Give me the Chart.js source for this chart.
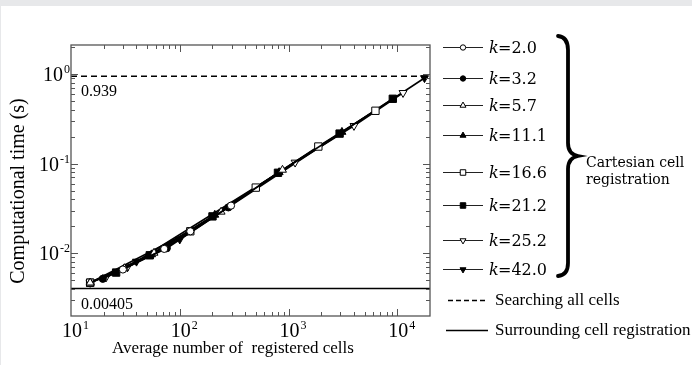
<!DOCTYPE html>
<html><head><meta charset="utf-8">
<script src="https://cdn.jsdelivr.net/npm/chart.js@4"></script>
<style>html,body{margin:0;padding:0;background:#fff;overflow:hidden}</style>
</head><body>
<canvas id="c" width="692" height="365" style="display:block;width:692px;height:365px"></canvas>
<script>
// ---- data ----
const seriesLabels = ['2.0', '3.2', '5.7', '11.1', '16.6', '21.2', '25.2', '42.0'];
const k20X  = [30, 72, 125, 296];
const k20Y  = [0.0066, 0.0112, 0.0176, 0.034];
const k32X  = [19.6, 76, 280];
const k32Y  = [0.0052, 0.0114, 0.0325];
const k57X  = [15, 31, 58, 240, 880];
const k57Y  = [0.0047, 0.0068, 0.0101, 0.029, 0.085];
const k111X = [15, 55, 210, 820, 3100];
const k111Y = [0.0047, 0.0097, 0.0268, 0.080, 0.225];
const k166X = [15, 125, 500, 1880, 6300];
const k166Y = [0.0047, 0.0176, 0.054, 0.155, 0.388];
const k212X = [15, 26, 53, 200, 800, 2950, 9100];
const k212Y = [0.0047, 0.0061, 0.0095, 0.0258, 0.079, 0.216, 0.528];
const k252X = [21, 33, 1150, 4000, 11300];
const k252Y = [0.0054, 0.0070, 0.103, 0.264, 0.615];
const k420X = [15, 40, 100, 17800];
const k420Y = [0.0047, 0.0081, 0.0143, 0.90];
const searchAllTime = 0.939;
const surroundingTime = 0.00405;
const xRange = [10, 20000];
const yRange = [0.002, 2.1];
const xMajorTicks = [10, 100, 1000, 10000];
const yMajorTicks = [0.01, 0.1, 1];
const refLabels = ['Searching all cells', 'Surrounding cell registration'];
const groupLabel = ['Cartesian cell', 'registration'];

const xs = [k20X, k32X, k57X, k111X, k166X, k212X, k252X, k420X];
const ys = [k20Y, k32Y, k57Y, k111Y, k166Y, k212Y, k252Y, k420Y];
const styles = [
  {ps:'circle', rot:0, fill:false, r:3.6},
  {ps:'circle', rot:0, fill:true, r:3.6},
  {ps:'triangle', rot:0, fill:false, r:4.6},
  {ps:'triangle', rot:0, fill:true, r:4.6},
  {ps:'rect', rot:0, fill:false, r:5.2},
  {ps:'rect', rot:0, fill:true, r:5.2},
  {ps:'triangle', rot:180, fill:false, r:4.6},
  {ps:'triangle', rot:180, fill:true, r:4.6}
];
const zip = (a, b) => a.map((v, i) => ({x: v, y: b[i]}));

const datasets = [];
datasets.push({label: refLabels[0], data: zip(xRange, [searchAllTime, searchAllTime]),
  borderColor:'#000', borderWidth:1.5, borderDash:[6,4], pointRadius:0, fill:false, order:10});
datasets.push({label: refLabels[1], data: zip(xRange, [surroundingTime, surroundingTime]),
  borderColor:'#000', borderWidth:1.6, pointRadius:0, fill:false, order:10});
seriesLabels.forEach((lab, i) => {
  const s = styles[i];
  datasets.push({
    label: 'k=' + lab, data: zip(xs[i], ys[i]),
    borderColor:'#000', borderWidth:1.6, fill:false, tension:0,
    pointStyle: s.ps, rotation: s.rot, pointRadius: s.r, pointHoverRadius: s.r,
    pointBackgroundColor: s.fill ? '#000' : '#fff', pointBorderColor:'#000', pointBorderWidth:1,
    order: i
  });
});

const SERIF = '"Liberation Serif", "Times New Roman", serif';
const MATH = '"DejaVu Serif", serif';
const legendRowsY = [47, 78, 105, 135, 172, 205, 240, 269];

function drawPow(ctx, base, exp, x, y, align, baseSize, supSize) {
  ctx.font = baseSize + 'px ' + SERIF;
  const wb = ctx.measureText(base).width;
  ctx.font = supSize + 'px ' + SERIF;
  const we = ctx.measureText(exp).width;
  let x0;
  if (align === 'right') x0 = x - wb - we - 1;
  else x0 = x - wb / 2; // base centred
  ctx.textAlign = 'left';
  ctx.textBaseline = 'alphabetic';
  ctx.font = baseSize + 'px ' + SERIF;
  ctx.fillText(base, x0, y);
  ctx.font = supSize + 'px ' + SERIF;
  ctx.fillText(exp, x0 + wb + 1, y - 8);
}

const deco = {
  id: 'deco',
  beforeDraw(chart) {
    const ctx = chart.ctx;
    ctx.save();
    ctx.fillStyle = '#e7e8ea';
    ctx.fillRect(0, 0, chart.width, chart.height);
    ctx.fillStyle = '#fff';
    ctx.fillRect(1, 6, chart.width - 1, chart.height - 6);
    ctx.restore();
  },
  afterDatasetsDraw(chart) {
    const ctx = chart.ctx;
    const xs_ = chart.scales.x, ys_ = chart.scales.y;
    const a = chart.chartArea;
    ctx.save();
    // frame
    ctx.strokeStyle = '#555';
    ctx.lineWidth = 1.3;
    ctx.strokeRect(a.left, a.top, a.right - a.left, a.bottom - a.top);
    // ticks
    ctx.lineWidth = 1;
    ctx.beginPath();
    for (let d = 10; d < xRange[1]; d *= 10) {
      for (let m = 1; m < 10; m++) {
        const v = d * m;
        if (v <= xRange[0] || v >= xRange[1]) continue;
        const px = Math.round(xs_.getPixelForValue(v)) + 0.5;
        const len = m === 1 ? 7 : 4;
        ctx.moveTo(px, a.bottom); ctx.lineTo(px, a.bottom - len);
        ctx.moveTo(px, a.top); ctx.lineTo(px, a.top + len);
      }
    }
    for (let d = 0.001; d < yRange[1]; d *= 10) {
      for (let m = 1; m < 10; m++) {
        const v = d * m;
        if (v <= yRange[0] * 1.0001 || v >= yRange[1]) continue;
        const py = Math.round(ys_.getPixelForValue(v)) + 0.5;
        const len = m === 1 ? 7 : 4;
        ctx.moveTo(a.left, py); ctx.lineTo(a.left + len, py);
        ctx.moveTo(a.right, py); ctx.lineTo(a.right - len, py);
      }
    }
    ctx.stroke();
    // tick labels
    ctx.fillStyle = '#000';
    xMajorTicks.forEach(v => {
      const px = xs_.getPixelForValue(v);
      drawPow(ctx, '10', String(Math.round(Math.log10(v))), px + 1, a.bottom + 21, 'center', 20, 12);
    });
    yMajorTicks.forEach(v => {
      const py = ys_.getPixelForValue(v);
      const e = Math.round(Math.log10(v));
      drawPow(ctx, '10', e < 0 ? '-' + (-e) : String(e), a.left - 1, py + 7, 'right', 20, 12);
    });
    // axis titles
    ctx.font = '17px ' + SERIF;
    ctx.textAlign = 'center';
    ctx.textBaseline = 'alphabetic';
    ctx.fillText('Average number of  registered cells', 233, 353);
    ctx.save();
    ctx.font = '20px ' + SERIF;
    ctx.translate(24, 191);
    ctx.rotate(-Math.PI / 2);
    ctx.fillText('Computational time (s)', 0, 0);
    ctx.restore();
    // reference value labels
    ctx.font = '16px ' + SERIF;
    ctx.textAlign = 'left';
    ctx.fillText(String(searchAllTime), a.left + 10, ys_.getPixelForValue(searchAllTime) + 20);
    ctx.fillText(String(surroundingTime), a.left + 10, ys_.getPixelForValue(surroundingTime) + 20);

    // legend
    chart.data.datasets.forEach((ds, i) => {
      if (i < 2) return;
      const j = i - 2;
      const y = legendRowsY[j];
      ctx.strokeStyle = '#222';
      ctx.lineWidth = 1.2;
      ctx.setLineDash([]);
      ctx.beginPath(); ctx.moveTo(443, y + 0.5); ctx.lineTo(483, y + 0.5); ctx.stroke();
      const s = styles[j];
      ctx.fillStyle = s.fill ? '#000' : '#fff';
      ctx.strokeStyle = '#000';
      ctx.lineWidth = 1;
      Chart.helpers.drawPoint(ctx, {pointStyle: s.ps, rotation: s.rot, radius: s.r * 0.75, borderWidth: 1}, 463, y + 0.5);
      ctx.fillStyle = '#000';
      ctx.textAlign = 'left';
      ctx.font = 'italic 16px ' + MATH;
      ctx.fillText('k', 489, y + 6);
      ctx.font = '16px ' + MATH;
      ctx.fillText('=' + seriesLabels[j], 498, y + 6);
    });
    // reference legend
    ctx.strokeStyle = '#000';
    ctx.lineWidth = 1.4;
    ctx.setLineDash([5, 3]);
    ctx.beginPath(); ctx.moveTo(448, 300.5); ctx.lineTo(488, 300.5); ctx.stroke();
    ctx.setLineDash([]);
    ctx.beginPath(); ctx.moveTo(446, 330.5); ctx.lineTo(488, 330.5); ctx.stroke();
    ctx.font = '17px ' + SERIF;
    ctx.fillStyle = '#000';
    ctx.fillText(refLabels[0], 495, 305);
    ctx.fillText(refLabels[1], 495, 335);
    // brace
    ctx.lineWidth = 3.8;
    ctx.lineCap = 'round';
    ctx.beginPath();
    ctx.moveTo(558, 36);
    ctx.quadraticCurveTo(568, 37, 568, 50);
    ctx.lineTo(568, 143);
    ctx.quadraticCurveTo(568, 154, 578, 156);
    ctx.quadraticCurveTo(568, 158, 568, 169);
    ctx.lineTo(568, 263);
    ctx.quadraticCurveTo(568, 275, 558, 276);
    ctx.stroke();
    ctx.font = '14px ' + MATH;
    ctx.fillText(groupLabel[0], 586, 167);
    ctx.fillText(groupLabel[1], 586, 184);
    ctx.restore();
  }
};

new Chart(document.getElementById('c'), {
  type: 'line',
  data: {datasets},
  options: {
    responsive: false, animation: false, devicePixelRatio: 1,
    layout: {padding: {left: 71, top: 45, right: 262, bottom: 49}},
    plugins: {legend: {display: false}, tooltip: {enabled: false}},
    scales: {
      x: {type: 'logarithmic', min: xRange[0], max: xRange[1], bounds: 'data', display: false},
      y: {type: 'logarithmic', min: yRange[0], max: yRange[1], bounds: 'data', display: false}
    },
    elements: {line: {tension: 0}}
  },
  plugins: [deco]
});
</script>
</body></html>
